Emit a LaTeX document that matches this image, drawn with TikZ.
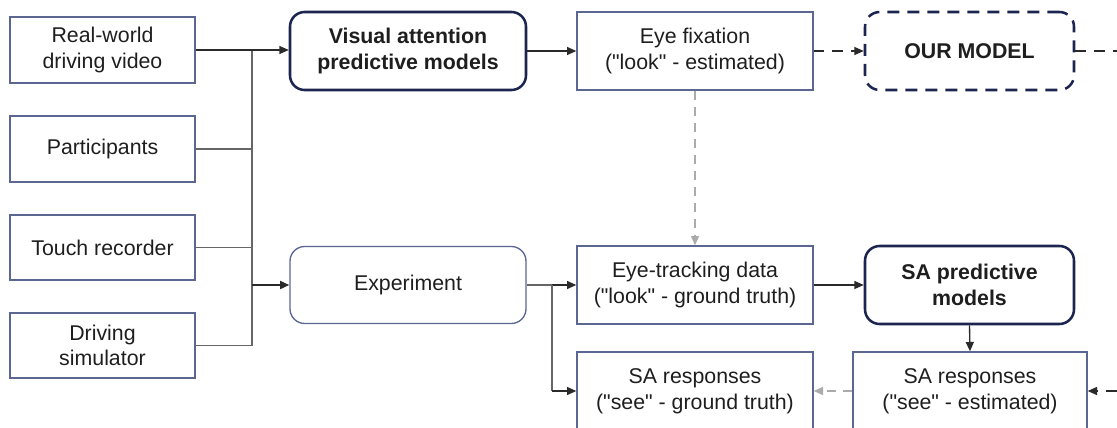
\documentclass[tikz,border=0pt]{standalone}
\usepackage{fontspec}
\setmainfont{Liberation Sans}[Ligatures=TeXOff]
\usetikzlibrary{arrows.meta}
\definecolor{boxc}{HTML}{5B6790}
\definecolor{navy}{HTML}{1C2550}
\definecolor{linec}{HTML}{666666}
\definecolor{arrc}{HTML}{2A2A2A}
\definecolor{lgray}{HTML}{ABABAB}
\definecolor{txt}{HTML}{1E1E1E}
\tikzset{
  base/.style={inner sep=0pt, align=center, text=txt, font=\fontsize{16}{19.2}\selectfont},
  plain/.style={base, draw=boxc, line width=1pt},
  bold/.style={base, draw=navy, line width=1.9pt, rounded corners=11pt, font=\fontsize{16}{19.2}\selectfont\bfseries},
  soft/.style={base, draw=boxc, line width=1pt, rounded corners=11pt},
  conn/.style={draw=linec, line width=1.1pt},
  arr/.style={draw=arrc, line width=1pt, -{Triangle[length=7pt,width=6pt]}},
  garr/.style={draw=lgray, line width=1pt, dash pattern=on 7pt off 5pt, -{Triangle[length=7pt,width=6pt]}},
  darr/.style={draw=arrc, line width=1pt, dash pattern=on 8pt off 6pt},
}
\begin{document}
\begin{tikzpicture}[x=0.75pt,y=-0.75pt]
\useasboundingbox (0,0) rectangle (1117,428);
% left inputs
\node[plain, minimum width=138.75pt, minimum height=49.5pt] (rw) at (102.5,50) {Real-world\\driving video};
\node[plain, minimum width=138.75pt, minimum height=49.5pt] (pa) at (102.5,149) {Participants};
\node[plain, minimum width=138.75pt, minimum height=48.75pt] (tr) at (102.5,247.5) {Touch recorder};
\node[plain, minimum width=138.75pt, minimum height=48.75pt] (ds) at (102.5,345.5) {Driving\\simulator};
% middle
\node[bold, minimum width=177pt, minimum height=58.5pt] (va) at (408,51) {Visual attention\\predictive models};
\node[soft, minimum width=177pt, minimum height=57.75pt] (ex) at (408,285) {Experiment};
\node[plain, minimum width=177pt, minimum height=58.5pt] (ef) at (695,51) {Eye fixation\\("look" - estimated)};
\node[plain, minimum width=177pt, minimum height=58.5pt] (et) at (695,285) {Eye-tracking data\\("look" - ground truth)};
\node[plain, minimum width=177pt, minimum height=58.5pt] (sg) at (695,391) {SA responses\\("see" - ground truth)};
\node[bold, dash pattern=on 9pt off 6pt, minimum width=156.75pt, minimum height=58.5pt] (om) at (969.5,51) {OUR MODEL};
\node[bold, minimum width=156.75pt, minimum height=58.5pt] (sp) at (969.5,285) {SA predictive\\models};
\node[plain, minimum width=175.5pt, minimum height=58.5pt] (se) at (970,391) {SA responses\\("see" - estimated)};
% coordinates
\coordinate (bt) at (252,50);
\coordinate (bb) at (252,345.5);
\coordinate (be) at (252,285);
\coordinate (jt) at (552,285);
\coordinate (jb) at (552,391);
\coordinate (rt) at (1117,51);
\coordinate (rb) at (1117,391);
% bus
\draw[conn] (bt) -- (bb);
\draw[conn] (pa.east) -- (pa.east -| bt);
\draw[conn] (tr.east) -- (tr.east -| bt);
\draw[conn] (ds.east) -- (bb);
\draw[arr] (rw.east) -- (rw.east -| va.west);
\draw[arr, line width=1.6pt] (be) -- (ex.west);
% top row
\draw[arr] (va.east) -- (ef.west);
\draw[darr, -{Triangle[length=7pt,width=6pt]}] (ef.east) -- (om.west);
\draw[darr] (om.east) -- (rt);
\draw[garr] (ef.south) -- (et.north);
% experiment outputs
\draw[conn] (ex.east) -- (jt);
\draw[arr] (jt) -- (et.west);
\draw[conn] (jt) -- (jb);
\draw[arr] (jb) -- (sg.west);
% right
\draw[arr] (et.east) -- (sp.west);
\draw[arr] (sp.south) -- (se.north);
\draw[garr] (se.west) -- (sg.east);
\draw[darr, -{Triangle[length=7pt,width=6pt]}] (rb) -- (se.east);
\end{tikzpicture}
\end{document}
